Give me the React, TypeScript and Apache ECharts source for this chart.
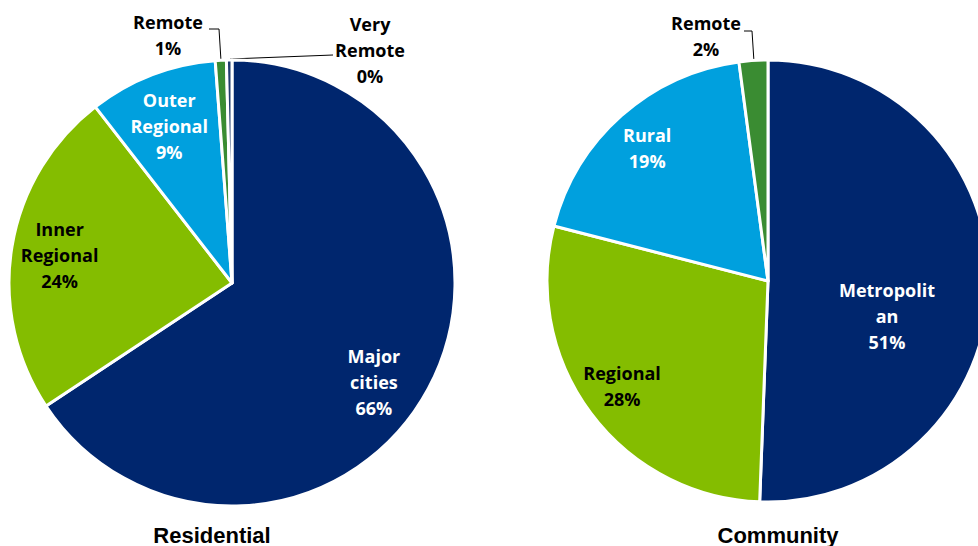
import React, { useEffect, useRef } from "react";
import * as echarts from "echarts";

// ---- Data ----
const residentialCategories = ["Major cities", "Inner Regional", "Outer Regional", "Remote", "Very Remote"];
const residentialValues = [65.7, 23.8, 9.3, 0.8, 0.4];
const communityCategories = ["Metropolitan", "Regional", "Rural", "Remote"];
const communityValues = [50.6, 28.4, 18.9, 2.1];
const chartTitles = ["Residential", "Community"];

// ---- Styles ----
const NAVY = "#00266E";
const GREEN = "#84BD00";
const BLUE = "#00A0DE";
const DKGREEN = "#3A8C32";
const residentialColors = [NAVY, GREEN, BLUE, DKGREEN, "#1F3A6E"];
const communityColors = [NAVY, GREEN, BLUE, DKGREEN];
const residentialTextColors = ["#fff", "#000", "#fff", "#000", "#000"];
const communityTextColors = ["#fff", "#000", "#fff", "#000"];

const LABEL_FONT = '"Open Sans", "Noto Sans", sans-serif';

type Outside = { [idx: number]: { dx: number; dy: number; line: number[][] } };

function buildSeries(
  cats: string[],
  vals: number[],
  colors: string[],
  textColors: string[],
  center: [number, number],
  R: number,
  labelRatio: number,
  outside: Outside,
  offsets: { [idx: number]: number[] },
  labelWidth?: number
) {
  const [cx, cy] = center;
  const fmt = (p: any) => `${String(p.name).replace(" ", "\n")}\n${Math.round(p.percent)}%`;
  const main = {
    type: "pie",
    center,
    radius: R,
    startAngle: 90,
    clockwise: true,
    avoidLabelOverlap: false,
    silent: true,
    itemStyle: { borderColor: "#fff", borderWidth: 3 },
    label: { show: false },
    labelLine: { show: false },
    data: cats.map((name, i) => {
      const isOut = outside[i] != null;
      return {
        name,
        value: vals[i],
        itemStyle: { color: colors[i] },
        label: isOut
          ? {
              show: true,
              position: "outside",
              formatter: fmt,
              color: "#000",
              fontFamily: LABEL_FONT,
              fontWeight: "bold",
              fontSize: 18,
              lineHeight: 26,
              align: "center",
              verticalAlign: "middle",
            }
          : { show: false },
        labelLine: isOut ? { show: true, lineStyle: { color: "#000", width: 1 } } : { show: false },
      };
    }),
    labelLayout: (p: any) => {
      const o = outside[p.dataIndex];
      if (!o) return {};
      return {
        x: cx + o.dx,
        y: cy + o.dy,
        align: "center",
        verticalAlign: "middle",
        labelLinePoints: o.line.map((pt) => [cx + pt[0], cy + pt[1]]),
      };
    },
  };
  const overlay = {
    type: "pie",
    center,
    radius: R * labelRatio * 2,
    startAngle: 90,
    clockwise: true,
    avoidLabelOverlap: false,
    silent: true,
    z: 5,
    itemStyle: { color: "rgba(0,0,0,0)", borderWidth: 0 },
    labelLine: { show: false },
    data: cats.map((name, i) => ({
      name,
      value: vals[i],
      itemStyle: { color: "rgba(0,0,0,0)" },
      label:
        outside[i] != null
          ? { show: false }
          : {
              show: true,
              position: "inside",
              formatter: fmt,
              color: textColors[i],
              fontFamily: LABEL_FONT,
              fontWeight: "bold",
              fontSize: 18,
              lineHeight: 26,
              align: "center",
              offset: offsets[i] || [0, 0],
              ...(labelWidth ? { width: labelWidth, overflow: "breakAll" } : {}),
            },
    })),
  };
  return [main, overlay];
}

export default function App() {
  const ref = useRef<HTMLDivElement>(null);
  useEffect(() => {
    if (!ref.current) return;
    const chart = echarts.init(ref.current, undefined, { renderer: "svg" });
    const leftCenter: [number, number] = [232, 283];
    const rightCenter: [number, number] = [768, 281];
    const left = buildSeries(
      residentialCategories,
      residentialValues,
      residentialColors,
      residentialTextColors,
      leftCenter,
      223,
      0.77,
      {
        3: { dx: -64, dy: -248, line: [[-23, -254], [-13, -254], [-11, -222]] },
        4: { dx: 138, dy: -233, line: [[101, -228], [-2, -224]] },
      },
      { 0: [-12, 16], 2: [0, 6] }
    );
    const right = buildSeries(
      communityCategories,
      communityValues,
      communityColors,
      communityTextColors,
      rightCenter,
      221,
      0.81,
      {
        3: { dx: -62, dy: -245, line: [[-24, -250], [-16, -250], [-14, -219]] },
      },
      { 0: [-63, 32], 1: [0, -4], 2: [0, 3] },
      98
    );
    chart.setOption({
      animation: false,
      backgroundColor: "#fff",
      series: [...left, ...right],
      graphic: [
        {
          type: "text",
          x: 212,
          y: 535,
          style: {
            text: chartTitles[0],
            font: 'bold 22px "Liberation Sans", Arial, sans-serif',
            fill: "#000",
            textAlign: "center",
            textVerticalAlign: "middle",
            align: "center",
            verticalAlign: "middle",
          },
        },
        {
          type: "text",
          x: 778,
          y: 535,
          style: {
            text: chartTitles[1],
            font: 'bold 22px "Liberation Sans", Arial, sans-serif',
            fill: "#000",
            textAlign: "center",
            textVerticalAlign: "middle",
            align: "center",
            verticalAlign: "middle",
          },
        },
      ],
    });
    return () => chart.dispose();
  }, []);
  return (
    <div
      ref={ref}
      style={{ position: "fixed", left: 0, top: 0, width: 978, height: 546, background: "#fff" }}
    />
  );
}
